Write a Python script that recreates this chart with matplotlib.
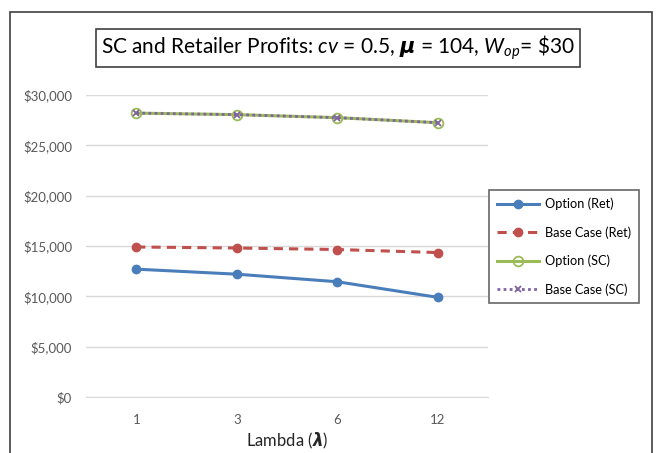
import matplotlib
matplotlib.use("Agg")
import matplotlib.pyplot as plt
from matplotlib.patches import Rectangle
from matplotlib.ticker import FuncFormatter

plt.rcParams['font.family'] = ['Lato', 'DejaVu Sans']
plt.rcParams['mathtext.fontset'] = 'custom'
plt.rcParams['mathtext.rm'] = 'Lato'
plt.rcParams['mathtext.it'] = 'Lato:italic'
plt.rcParams['mathtext.bf'] = 'DejaVu Sans:bold:italic'

lambdas = ["1", "3", "6", "12"]
option_ret = [12700, 12200, 11450, 9900]
base_ret = [14900, 14800, 14650, 14350]
option_sc = [28200, 28050, 27750, 27250]
base_sc = [28200, 28050, 27750, 27250]

fig = plt.figure(figsize=(6.56, 4.53), dpi=100)
W, H = 656, 453
# outer chart border (cut off at bottom like the screenshot)
fig.patches.append(Rectangle((10 / W, -0.05), 642 / W, 1.05 - 12 / H,
                             transform=fig.transFigure, fill=False,
                             edgecolor="#404040", lw=1.2))

ax = fig.add_axes([86 / W, 1 - 397 / H, 402 / W, 302 / H])
x = range(len(lambdas))
ax.plot(x, option_ret, color="#4a7ebb", lw=2.2, marker="o", ms=6, label="Option (Ret)")
ax.plot(x, base_ret, color="#c0504d", lw=2.2, ls=(0, (3, 2)), marker="o", ms=6,
        label="Base Case (Ret)")
ax.plot(x, option_sc, color="#9bbb59", lw=2.2, marker="o", ms=7, mfc="none", mew=1.3,
        label="Option (SC)")
ax.plot(x, base_sc, color="#8064a2", lw=2.0, ls=(0, (1, 1.2)), marker="x", ms=5, mew=1.3,
        label="Base Case (SC)")

ax.set_xlim(-0.5, len(lambdas) - 0.5)
ax.set_ylim(0, 30000)
ax.set_yticks(range(0, 30001, 5000))
ax.yaxis.set_major_formatter(FuncFormatter(lambda v, p: f"${v:,.0f}"))
ax.set_xticks(list(x))
ax.set_xticklabels(lambdas)
ax.grid(axis="y", color="#d9d9d9", lw=1)
ax.set_axisbelow(True)
for s in ["top", "right", "left"]:
    ax.spines[s].set_visible(False)
ax.spines["bottom"].set_color("#d9d9d9")
ax.tick_params(length=0, colors="#595959", labelsize=9.5)
ax.tick_params(axis="y", pad=10)
ax.tick_params(axis="x", pad=12)

ax.set_xlabel(r"Lambda ($\mathbf{\lambda}$)", fontsize=12, color="#262626", labelpad=4)

fig.text(338 / W, 1 - 48 / H,
         r"SC and Retailer Profits: $cv$ = 0.5, $\mathbf{\mu}$ = 104, $W_{op}$= \$30",
         ha="center", va="center", fontsize=15, color="black",
         bbox=dict(boxstyle="square,pad=0.22", fc="white", ec="#404040", lw=1.2))

leg = fig.legend(loc="upper left", bbox_to_anchor=(489 / W, 1 - 190 / H), fontsize=9.2,
                 frameon=True, fancybox=False, edgecolor="#404040", handlelength=3.3,
                 handletextpad=0.5, labelspacing=1.25, borderpad=0.6, borderaxespad=0)
leg.get_frame().set_linewidth(1.2)

fig.savefig("out.png", dpi=100)
